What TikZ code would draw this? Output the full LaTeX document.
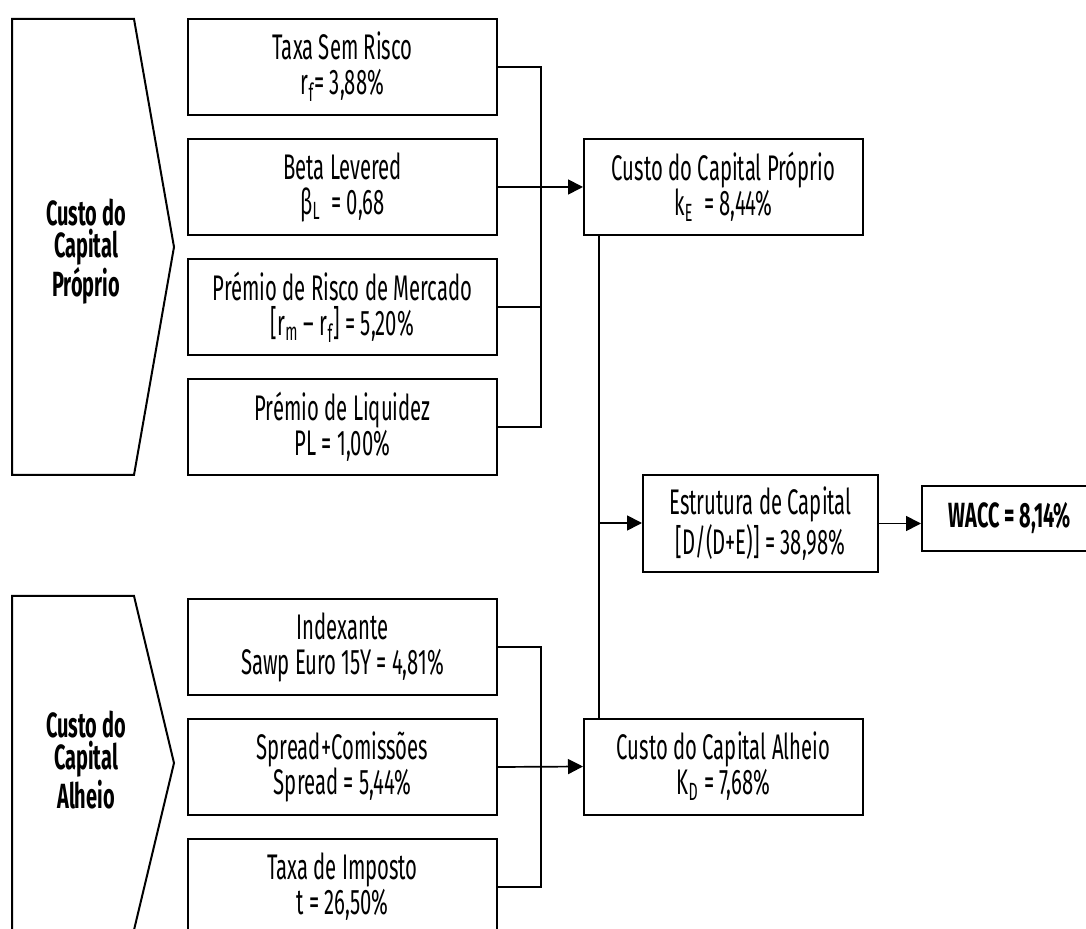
\documentclass[tikz,border=0pt]{standalone}
\usepackage{fontspec}
\setmainfont{Fira Sans}[FakeStretch=0.57]
\usepackage{tikz}
\usetikzlibrary{arrows.meta}
\newcommand{\boxfont}{\fontsize{17.8}{17.5}\selectfont}
\newcommand{\lblfont}{\fontsize{17.5}{16}\selectfont\bfseries}
\tikzset{% 
    fct/.style={draw,line width=1pt,inner sep=0pt,align=center,font=\boxfont,
        minimum width=154.5pt,minimum height=48pt},
    res/.style={fct,minimum width=139.5pt},
    grp/.style={line width=1pt},
    lbl/.style={align=center,font=\lblfont},
    lnk/.style={line width=0.85pt},
    arr/.style={lnk,-{Triangle[length=7.5pt,width=7.5pt]}}
}
\begin{document}
\begin{tikzpicture}[x=0.5pt,y=-0.5pt]
        \useasboundingbox (0,0) rectangle (1086,929);
        \draw[grp] (12,19) -- (134,19) -- (174,247) -- (134,475) -- (12,475) -- cycle;
        \draw[grp] (12,596) -- (134,596) -- (174,763) -- (134,930) -- (12,930) -- cycle;
        \node[lbl] (cpt) at (86,252){Custo do\\Capital\\Próprio};
        \node[lbl] (cal) at (86,760){Custo do\\Capital\\Alheio};
        \node[fct] (rf) at (342.5,67){Taxa Sem Risco\\r\textsubscript{f}= 3,88\%};
        \node[fct] (beta) at (342.5,187){Beta Levered\\β\textsubscript{L} \ = 0,68};
        \node[fct] (prm) at (342.5,307){Prémio de Risco de Mercado\\{[}r\textsubscript{m} – r\textsubscript{f}{]} = 5,20\%};
        \node[fct] (pl) at (342.5,427){Prémio de Liquidez\\PL = 1,00\%};
        \node[fct] (idx) at (342.5,647){Indexante\\Sawp Euro 15Y = 4,81\%};
        \node[fct] (spr) at (342.5,767){Spread+Comissões\\Spread = 5,44\%};
        \node[fct] (tax) at (342.5,887){Taxa de Imposto\\t = 26,50\%};
        \node[res] (ke) at (723.5,187){Custo do Capital Próprio\\k\textsubscript{E} \ = 8,44\%};
        \node[res] (kd) at (723.5,766.5){Custo do Capital Alheio\\K\textsubscript{D} = 7,68\%};
        \node[fct,minimum width=117.5pt,minimum height=48.5pt] (est) at (760.5,523.5){Estrutura de Capital\\{[}D/(D+E){]} = 38,98\%};
        \node[fct,minimum width=88pt,minimum height=32.5pt,font=\lblfont] (wacc) at (1010,518.5){WACC = 8,14\%};
        \coordinate (busE) at (541,187);
        \coordinate (busD) at (541,767);
        \coordinate (trunk) at (599,523);
        % capital proprio
        \draw[lnk] (rf.east) -| (busE) |- (pl.east);
        \draw[lnk] (prm.east) -- (prm.east -| busE);
        \draw[arr] (beta.east) -- (ke.west);
        % capital alheio
        \draw[lnk] (idx.east) -| (busD) |- (tax.east);
        \draw[arr] (spr.east) -- (kd.west);
        % estrutura e wacc
        \draw[lnk] (ke.south -| trunk) -- (kd.north -| trunk);
        \draw[arr] (trunk) -- (trunk -| est.west);
        \draw[arr] (est.east) -- (est.east -| wacc.west);
    \end{tikzpicture}
\end{document}
